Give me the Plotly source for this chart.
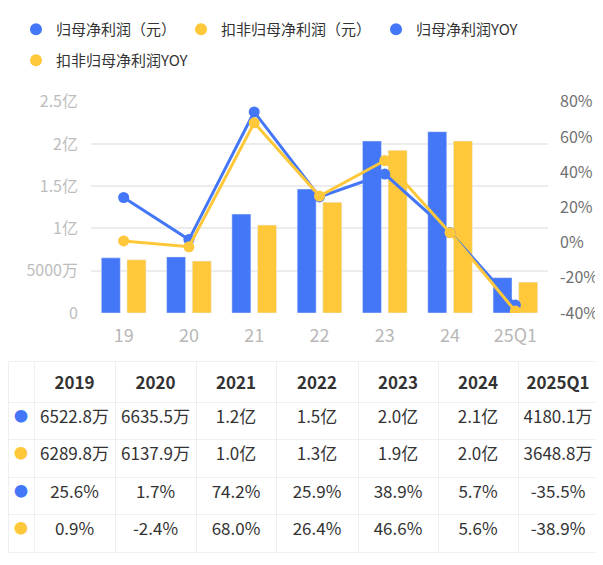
import plotly.graph_objects as go

# data
categories = ["19", "20", "21", "22", "23", "24", "25Q1"]
years = ["2019", "2020", "2021", "2022", "2023", "2024", "2025Q1"]
net_profit = [65228000, 66355000, 117000000, 146700000, 203500000, 214500000, 41801000]
net_profit_ded = [62898000, 61379000, 104000000, 131000000, 192500000, 203500000, 36488000]
net_yoy = [25.6, 1.7, 74.2, 25.9, 38.9, 5.7, -35.5]
ded_yoy = [0.9, -2.4, 68.0, 26.4, 46.6, 5.6, -38.9]

net_profit_txt = ["6522.8万", "6635.5万", "1.2亿", "1.5亿", "2.0亿", "2.1亿", "4180.1万"]
net_profit_ded_txt = ["6289.8万", "6137.9万", "1.0亿", "1.3亿", "1.9亿", "2.0亿", "3648.8万"]
net_yoy_txt = ["25.6%", "1.7%", "74.2%", "25.9%", "38.9%", "5.7%", "-35.5%"]
ded_yoy_txt = ["0.9%", "-2.4%", "68.0%", "26.4%", "46.6%", "5.6%", "-38.9%"]

left_tickvals = [0, 50000000, 100000000, 150000000, 200000000, 250000000]
left_ticktext = ["0", "5000万", "1亿", "1.5亿", "2亿", "2.5亿"]
right_tickvals = [-40, -20, 0, 20, 40, 60, 80]
right_ticktext = ["-40%", "-20%", "0%", "20%", "40%", "60%", "80%"]

names = ["归母净利润（元）", "扣非归母净利润（元）", "归母净利润YOY", "扣非归母净利润YOY"]

BLUE = "#4477f7"
YELLOW = "#fec83a"
FONT = "Noto Sans CJK SC"

# the page body adds 8px around the figure, so the figure is 8px smaller
# and every pixel position below is measured on the page minus 8
OFF = 8
W, H = 603 - OFF, 565 - OFF


def px_x(x):
    return min(max((x - OFF) / W, 0), 1)


def px_y(y):
    return min(max(1 - (y - OFF) / H, 0), 1)


fig = go.Figure()

fig.add_trace(go.Bar(x=categories, y=net_profit, marker_color=BLUE,
                     showlegend=False, hoverinfo="skip"))
fig.add_trace(go.Bar(x=categories, y=net_profit_ded, marker_color=YELLOW,
                     showlegend=False, hoverinfo="skip"))
fig.add_trace(go.Scatter(x=categories, y=net_yoy, yaxis="y2", mode="lines+markers",
                         line=dict(color=BLUE, width=3), marker=dict(size=11, color=BLUE),
                         showlegend=False, hoverinfo="skip"))
fig.add_trace(go.Scatter(x=categories, y=ded_yoy, yaxis="y2", mode="lines+markers",
                         line=dict(color=YELLOW, width=3), marker=dict(size=11, color=YELLOW),
                         showlegend=False, hoverinfo="skip"))

# legend entries drawn as plain dots
legend_colors = [BLUE, YELLOW, BLUE, YELLOW]
for i, (name, col) in enumerate(zip(names, legend_colors)):
    fig.add_trace(go.Scatter(x=[None], y=[None], mode="markers", name=name,
                             marker=dict(color=col, size=12, symbol="circle"),
                             legend="legend" if i < 3 else "legend2"))

# data table under the chart
dot = "●"
fig.add_trace(go.Table(
    domain=dict(x=[px_x(7), px_x(598)], y=[0, px_y(361)]),
    columnwidth=[26, 81, 81, 80, 82, 80, 80, 80],
    header=dict(
        values=[""] + [f"<b>{y}</b>" for y in years],
        height=38,
        fill_color="white",
        line=dict(color="#efefef", width=1),
        font=dict(family=FONT, size=17, color="#333333"),
        align="center",
    ),
    cells=dict(
        values=[[dot] * 4] + [
            [a, b, c, d] for a, b, c, d in zip(net_profit_txt, net_profit_ded_txt,
                                               net_yoy_txt, ded_yoy_txt)
        ],
        height=37.5,
        fill_color="white",
        line=dict(color="#efefef", width=1),
        font=dict(family=FONT, size=[14] + [17] * 7,
                  color=[[BLUE, YELLOW, BLUE, YELLOW]] + ["#333333"] * 7),
        align="center",
    ),
))

fig.update_layout(
    width=W, height=H,
    margin=dict(l=0, r=0, t=0, b=0, autoexpand=False),
    paper_bgcolor="white", plot_bgcolor="white",
    font=dict(family=FONT),
    barmode="group", bargap=0.214, bargroupgap=0.26,
    xaxis=dict(domain=[px_x(91), px_x(548)], showgrid=False, zeroline=False, showline=False,
               automargin=False,
               ticks="outside", ticklen=6, tickcolor="rgba(0,0,0,0)",
               tickfont=dict(size=18, color="#b8b8b8")),
    yaxis=dict(domain=[px_y(313), px_y(101.7)], range=[0, 250000000],
               tickvals=left_tickvals, ticktext=left_ticktext, automargin=False,
               showgrid=True, gridcolor="#ececec", gridwidth=1.5, zeroline=False,
               ticklabelstandoff=12, tickfont=dict(size=16, color="#bdbdbd")),
    yaxis2=dict(overlaying="y", side="right", range=[-40, 80],
                tickvals=right_tickvals, ticktext=right_ticktext, automargin=False,
                showgrid=False, zeroline=False,
                ticklabelstandoff=11, tickfont=dict(size=16, color="#707070")),
    legend=dict(orientation="h", x=px_x(16), xanchor="left", y=px_y(13), yanchor="top",
                font=dict(size=15, color="#333333"), itemclick=False),
    legend2=dict(orientation="h", x=px_x(16), xanchor="left", y=px_y(44), yanchor="top",
                 font=dict(size=15, color="#333333"), itemclick=False),
)

fig.write_html("out.html")
